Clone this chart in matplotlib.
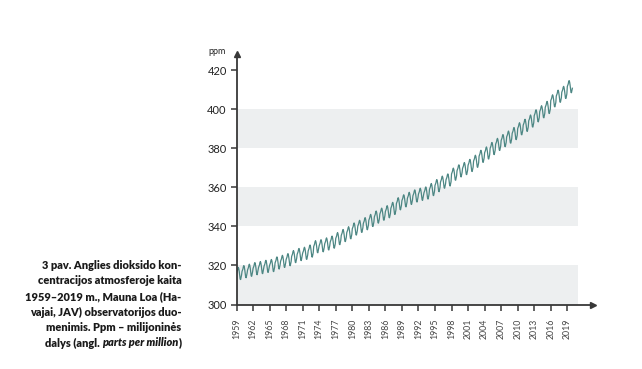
import numpy as np
import matplotlib.pyplot as plt

plt.rcParams["font.family"] = ["Lato", "DejaVu Sans"]

# Mauna Loa annual mean CO2 (ppm), 1959-2019
years = np.arange(1959, 2020)
annual_mean = [315.98, 316.91, 317.64, 318.45, 318.99, 319.62, 320.04, 321.37, 322.18, 323.05,
               324.62, 325.68, 326.32, 327.46, 329.68, 330.19, 331.12, 332.03, 333.84, 335.41,
               336.84, 338.76, 340.12, 341.48, 343.15, 344.87, 346.35, 347.61, 349.31, 351.69,
               353.20, 354.45, 355.70, 356.54, 357.21, 358.96, 360.97, 362.74, 363.88, 366.84,
               368.54, 369.71, 371.32, 373.45, 375.98, 377.70, 379.98, 382.09, 384.02, 385.83,
               387.64, 390.10, 391.85, 394.06, 396.74, 398.81, 401.01, 404.41, 406.76, 408.72,
               411.66]
# mean seasonal offset per month (Jan..Dec), ppm
seasonal = [0.0, 0.6, 1.3, 2.5, 3.0, 2.3, 0.8, -1.3, -3.0, -3.2, -2.0, -0.9]

xtick_years = list(range(1959, 2020, 3))
yticks = [300, 320, 340, 360, 380, 400, 420]
bands = [(300, 320), (340, 360), (380, 400)]

caption = ["3 pav. Anglies dioksido kon-",
           "centracijos atmosferoje kaita",
           "1959\u20132019 m., Mauna Loa (Ha-",
           "vajai, JAV) observatorijos duo-",
           "menimis. Ppm \u2013 milijonin\u0117s"]

# monthly series
t = []
co2 = []
for i, yr in enumerate(years):
    for m in range(12):
        t.append(yr + m / 12)
        co2.append(annual_mean[i] + seasonal[m])

axis_col = "#383838"
W, H = 642, 369
fig = plt.figure(figsize=(W / 100, H / 100), dpi=100)
ax = fig.add_axes([236.5 / W, (H - 304.5) / H, (593 - 236.5) / W, (304.5 - 54) / H])

ax.set_xlim(1959, 2023.66)
ax.set_ylim(300, 428.3)

for lo, hi in bands:
    ax.fill_between([1959, 2020.85], lo, hi, color="#edeff0", lw=0, zorder=0)

ax.plot(t, co2, color="#4d8784", lw=0.9, zorder=2)

for s in ["top", "right"]:
    ax.spines[s].set_visible(False)
for s in ["left", "bottom"]:
    ax.spines[s].set_color(axis_col)
    ax.spines[s].set_linewidth(1.3)

ax.plot(1, 0, ">", color=axis_col, ms=4, transform=ax.transAxes, clip_on=False)
ax.plot(0, 1, "^", color=axis_col, ms=4, transform=ax.transAxes, clip_on=False)

ax.set_yticks(yticks)
ax.set_yticklabels([str(v) for v in yticks], fontsize=8, color="#222222")
ax.set_xticks(xtick_years)
ax.set_xticklabels([str(v) for v in xtick_years], rotation=90, fontsize=6.3, color="#444444")
ax.tick_params(axis="both", length=4, width=1.1, color=axis_col, pad=3)
ax.tick_params(axis="x", pad=6)

fig.text(217 / W, (H - 52) / H, "ppm", fontsize=6.5, ha="center", va="center", color="#222222")

# caption, right aligned
fs = 7.9
xr = 181.5 / W
y0 = 265.5
dy = 15.5
for k, line in enumerate(caption):
    fig.text(xr, (H - (y0 + k * dy)) / H, line, ha="right", va="center",
             fontsize=fs, fontweight="heavy", color="#1a1a1a")

renderer = fig.canvas.get_renderer()
yl = (H - (y0 + 5 * dy)) / H
x = xr
parts = [(")", "normal"), ("parts per million", "italic"), ("dalys (angl. ", "normal")]
for txt, style in parts:
    tt = fig.text(x, yl, txt, ha="right", va="center", fontsize=fs, fontweight="heavy",
                  fontstyle=style, color="#1a1a1a")
    w = tt.get_window_extent(renderer).width
    x -= w / W

fig.savefig("out.png", dpi=100)
